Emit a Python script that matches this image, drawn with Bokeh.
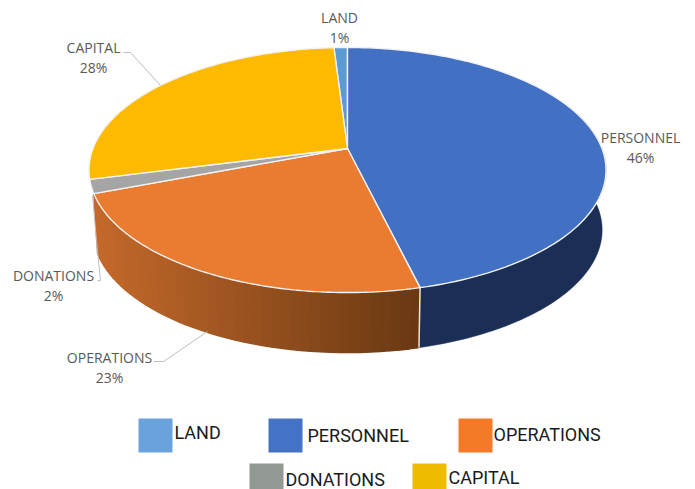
import numpy as np
from bokeh.plotting import figure
from bokeh.models import Range1d
from bokeh.core.properties import value
from bokeh.embed import file_html
from bokeh.resources import INLINE

categories = ["LAND", "PERSONNEL", "OPERATIONS", "DONATIONS", "CAPITAL"]
shares = [1.0, 46.2, 23.0, 1.8, 28.0]
top_colors = ["#5b9bd5", "#4270c2", "#e97c31", "#a5a5a5", "#fdba00"]
legend_colors = ["#6aa3dc", "#4472c4", "#f47a28", "#929892", "#efbb00"]

W, H = 695, 489
p = figure(width=W, height=H, output_backend="svg", toolbar_location=None,
           x_range=Range1d(0, W), y_range=Range1d(H, 0),
           min_border=0, outline_line_color=None)
p.xaxis.visible = False
p.yaxis.visible = False
p.grid.visible = False
p.background_fill_color = "white"

# perspective projection of the pie's unit circle onto the page
CX, HUB_Y, C, A, D, DEPTH = 347.0, 148.0, -0.1755, 92.8, 254.5, 60.0
SHRINK = 0.985


def project(t, drop=0.0, shrink=1.0):
    u, v = np.sin(t), -np.cos(t)
    w = 1 + C * v
    return CX + shrink * D * u / w, (HUB_Y + A * v) / w + drop


def frac_to_t(f):
    return 2 * np.pi * f


total = float(sum(shares))
edges = np.cumsum([0] + shares) / total - shares[0] / total  # personnel starts at 12 o'clock


def lerp(c0, c1, f):
    return "#%02x%02x%02x" % tuple(int(round(a + (b - a) * f)) for a, b in zip(c0, c1))


t_pers_end = frac_to_t(edges[2])
t_op_end = frac_to_t(edges[3])

# personnel side wall: one flat navy patch
ts = np.linspace(np.pi * 0.40, t_pers_end, 80)
x_up, y_up = project(ts)
x_lo, y_lo = project(ts[::-1], DEPTH, SHRINK)
p.patch(list(x_up) + list(x_lo), list(y_up) + list(y_lo), fill_color="#1b2e55", line_color="#1b2e55", line_width=0.5)

# operations side wall: gradient strips
ts = np.linspace(t_pers_end, t_op_end, 45)
left_c, right_c = (0xc4, 0x69, 0x2b), (0x69, 0x38, 0x12)
xl = project(t_op_end)[0]
xr = project(t_pers_end)[0]
wx, wy, wc = [], [], []
for a, b in zip(ts[:-1], ts[1:]):
    x0, y0 = project(a)
    x1, y1 = project(b)
    x2, y2 = project(b, DEPTH, SHRINK)
    x3, y3 = project(a, DEPTH, SHRINK)
    f = (0.5 * (x0 + x1) - xl) / (xr - xl)
    wx.append([x0, x1, x2, x3])
    wy.append([y0, y1, y2, y3])
    wc.append(lerp(left_c, right_c, f))
p.patches(wx, wy, fill_color=wc, line_color=wc, line_width=1.5)

# divider on the wall between personnel and operations
bx0, by0 = project(t_pers_end)
bx1, by1 = project(t_pers_end, DEPTH, SHRINK)
p.line([bx0, bx1], [by0, by1], line_color="#e8e4dc", line_width=1.5)

# top wedges
xs, ys = [], []
for f0, f1 in zip(edges[:-1], edges[1:]):
    t = np.linspace(frac_to_t(f0), frac_to_t(f1), 120)
    x, y = project(t)
    xs.append([CX] + list(x))
    ys.append([HUB_Y] + list(y))
p.patches(xs, ys, fill_color=top_colors, line_color="#f2f2f2", line_width=1.4)

# leader lines
leaders_x = [[123, 130, 160], [97, 100, 96, 92], [153, 163, 207]]
leaders_y = [[52, 52, 85], [280, 280, 240, 195], [361, 361, 331]]
p.multi_line(leaders_x, leaders_y, line_color="#bdbdbd", line_width=1)

# data labels
label_x = [339, 640, 109, 53, 93]
label_y = [17, 137, 357, 275, 47]
for name, s, lx, ly in zip(categories, shares, label_x, label_y):
    p.text([lx, lx], [ly, ly + 20], text=[name, f"{round(s)}%"], text_font=value("Open Sans"),
           text_font_size="14px", text_color="#595959", text_align="center",
           text_baseline="middle")

# legend
sq_x = [138, 268, 458, 249, 412]
sq_top = [418, 418, 418, 463, 463]
sq_w = 34
txt_x = [174, 307, 493, 285, 448]
txt_y = [432, 435, 434, 479, 477]
for sx, st, c in zip(sq_x, sq_top, legend_colors):
    p.quad(left=[sx], right=[sx + sq_w], top=[st], bottom=[st + sq_w], fill_color=c, line_color=None)
p.text(txt_x, txt_y, text=categories, text_font=value("Roboto"), text_font_size="18px",
       text_color="#1a1a1a", text_align="left", text_baseline="middle")

open("out.html", "w").write(file_html(p, INLINE))
